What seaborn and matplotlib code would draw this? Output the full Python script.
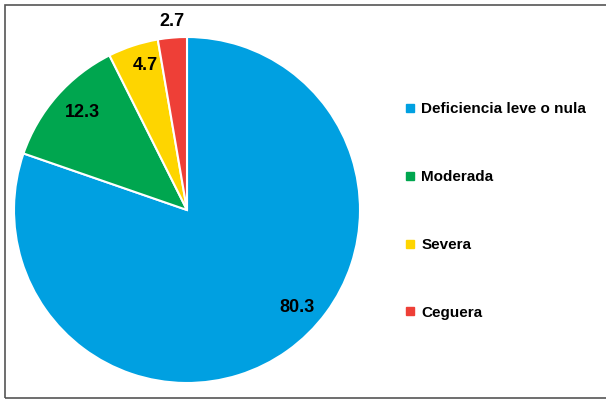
import matplotlib
matplotlib.use("Agg")
import matplotlib.pyplot as plt
import seaborn as sns
from matplotlib.lines import Line2D
from matplotlib.patches import Rectangle

categories = ["Deficiencia leve o nula", "Moderada", "Severa", "Ceguera"]
values = [80.3, 12.3, 4.7, 2.7]
value_labels = ["80.3", "12.3", "4.7", "2.7"]
colors = ["#00A0E1", "#00A64F", "#FED500", "#EE3F37"]

sns.set_theme(style="white")
plt.rcParams["font.family"] = ["Liberation Sans", "DejaVu Sans"]
plt.rcParams["text.color"] = "black"

fig = plt.figure(figsize=(6.06, 4.00), dpi=100)
fig.patch.set_facecolor("white")

# axes placed so pie centre is at ~(187,210) px with radius ~173 px
ax = fig.add_axes([14 / 606, 17 / 400, 346 / 606, 346 / 400])
palette = sns.color_palette(colors)
wedges, _ = ax.pie(values, colors=palette, startangle=90, counterclock=False,
                   radius=1.0,
                   wedgeprops=dict(edgecolor="white", linewidth=1.5))
ax.set_xlim(-1, 1)
ax.set_ylim(-1, 1)
ax.set_aspect("equal")
ax.axis("off")

# label positions (in pie radius units)
label_pos = [(0.636, -0.566), (-0.607, 0.561), (-0.243, 0.838), (-0.087, 1.088)]
for (x, y), t in zip(label_pos, value_labels):
    ax.text(x, y, t, ha="center", va="center", fontsize=13,
            fontweight="bold", color="black", clip_on=False)

handles = [Line2D([0], [0], marker="s", linestyle="none", markersize=6,
                  markerfacecolor=c, markeredgecolor=c) for c in colors]
leg = fig.legend(handles, categories, loc="center left",
                 bbox_to_anchor=(406 / 606, 1 - 211 / 400),
                 frameon=False, fontsize=11, handlelength=0.5,
                 handletextpad=0.5, labelspacing=3.52, borderpad=0,
                 borderaxespad=0)
for t in leg.get_texts():
    t.set_fontweight("bold")
    t.set_color("black")

fig.patches.append(Rectangle((4.5 / 606, 2 / 400), 1.2, 1 - 6.5 / 400,
                             transform=fig.transFigure, fill=False,
                             edgecolor="#555555", linewidth=1.2))

fig.savefig("out.png", dpi=100)
